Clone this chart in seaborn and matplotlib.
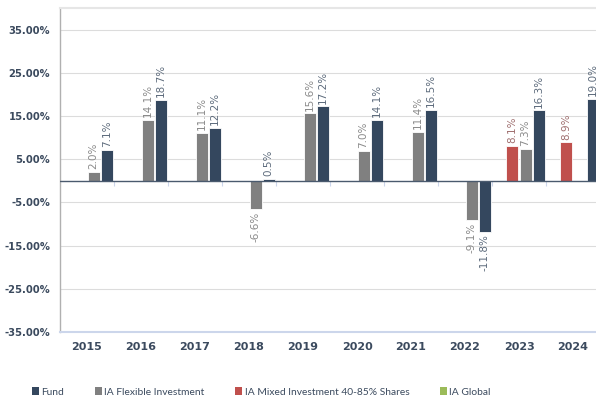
import matplotlib
matplotlib.use("Agg")
import matplotlib.pyplot as plt
import matplotlib.colors as mcolors
from matplotlib.patches import Patch
import numpy as np
import pandas as pd
import seaborn as sns

years = ["2015", "2016", "2017", "2018", "2019", "2020", "2021", "2022", "2023", "2024"]
fund = [7.1, 18.7, 12.2, 0.5, 17.2, 14.1, 16.5, -11.8, 16.3, 19.0]
flexible = [2.0, 14.1, 11.1, -6.6, 15.6, 7.0, 11.4, -9.1, 7.3, None]
mixed_years = ["2023", "2024"]
mixed = [8.1, 8.9]

series_names = ["Fund", "IA Flexible Investment", "IA Mixed Investment 40-85% Shares", "IA Global"]
colors = {"Fund": "#34475e", "IA Flexible Investment": "#808080",
          "IA Mixed Investment 40-85% Shares": "#c0504d", "IA Global": "#9bbb59"}
label_colors = {"Fund": "#5d6b7c", "IA Flexible Investment": "#8a8a8a",
                "IA Mixed Investment 40-85% Shares": "#a07070", "IA Global": "#9bbb59"}
hue_order = ["IA Global", "IA Mixed Investment 40-85% Shares", "IA Flexible Investment", "Fund"]

rows = []
for y, v in zip(years, fund):
    rows.append((y, "Fund", v))
for y, v in zip(years, flexible):
    if v is not None:
        rows.append((y, "IA Flexible Investment", v))
for y, v in zip(mixed_years, mixed):
    rows.append((y, "IA Mixed Investment 40-85% Shares", v))
df = pd.DataFrame(rows, columns=["year", "series", "value"])

sns.set_style("white")
text_col = "#3b4a5e"

fig = plt.figure(figsize=(5.96, 4.05), dpi=100)
ax = fig.add_axes([60 / 596, 73 / 405, 540 / 596, 324 / 405])

sns.barplot(data=df, x="year", y="value", hue="series", order=years, hue_order=hue_order,
            palette=colors, saturation=1, width=0.97, gap=0.08, edgecolor="white",
            linewidth=0.6, legend=False, ax=ax, zorder=3)

ax.set_ylim(-35, 40)
ax.set_xlim(-0.5, len(years) - 0.5)
ax.set_yticks(np.arange(-35, 36, 10))
ax.set_yticklabels([f"{t:.2f}%" for t in np.arange(-35, 36, 10)])
ax.grid(axis="y", color="#dcdcdc", linewidth=0.8, zorder=0)
ax.axhline(0, color="#4a5a6e", linewidth=1.0, zorder=4)
ax.vlines(np.arange(len(years) - 1) + 0.5, -1.2, 0, color="#ccd6eb", linewidth=0.8, zorder=2)

ax.spines["right"].set_visible(False)
ax.spines["top"].set_color("#e6e6e6")
ax.spines["top"].set_linewidth(1.5)
ax.spines["left"].set_color("#b0b0b0")
ax.spines["left"].set_linewidth(1.0)
ax.spines["bottom"].set_color("#ccd6eb")
ax.spines["bottom"].set_linewidth(1.5)

ax.tick_params(axis="y", length=0, pad=7, labelsize=7.2, labelcolor=text_col)
ax.tick_params(axis="x", length=0, pad=7, labelsize=8, labelcolor=text_col)
for lab in ax.get_xticklabels() + ax.get_yticklabels():
    lab.set_fontweight("bold")
ax.set_xlabel("")
ax.set_ylabel("")


def nearest_series(fc):
    rgb = np.array(mcolors.to_rgb(fc))
    d = [np.abs(np.array(mcolors.to_rgb(colors[n])) - rgb).sum() for n in series_names]
    return series_names[int(np.argmin(d))]


# value labels
for cont in ax.containers:
    if len(cont.patches) == 0:
        continue
    name = nearest_series(cont.patches[0].get_facecolor())
    labels = ["" if np.isnan(v) else f"{v:.1f}%" for v in cont.datavalues]
    ax.bar_label(cont, labels=labels, rotation=90, padding=2, fontsize=7.5,
                 color=label_colors[name], clip_on=False)

handles = [Patch(facecolor=colors[n], edgecolor="none") for n in series_names]
leg = fig.legend(handles, series_names, loc="center left", bbox_to_anchor=(28 / 596, 13 / 405),
                 ncol=4, frameon=False, prop={"family": "Lato", "size": 7.4},
                 handlelength=0.7, handleheight=0.7,
                 handletextpad=0.2, columnspacing=3.0, borderaxespad=0)
for t in leg.get_texts():
    t.set_color(text_col)

fig.savefig("out.png", dpi=100)
